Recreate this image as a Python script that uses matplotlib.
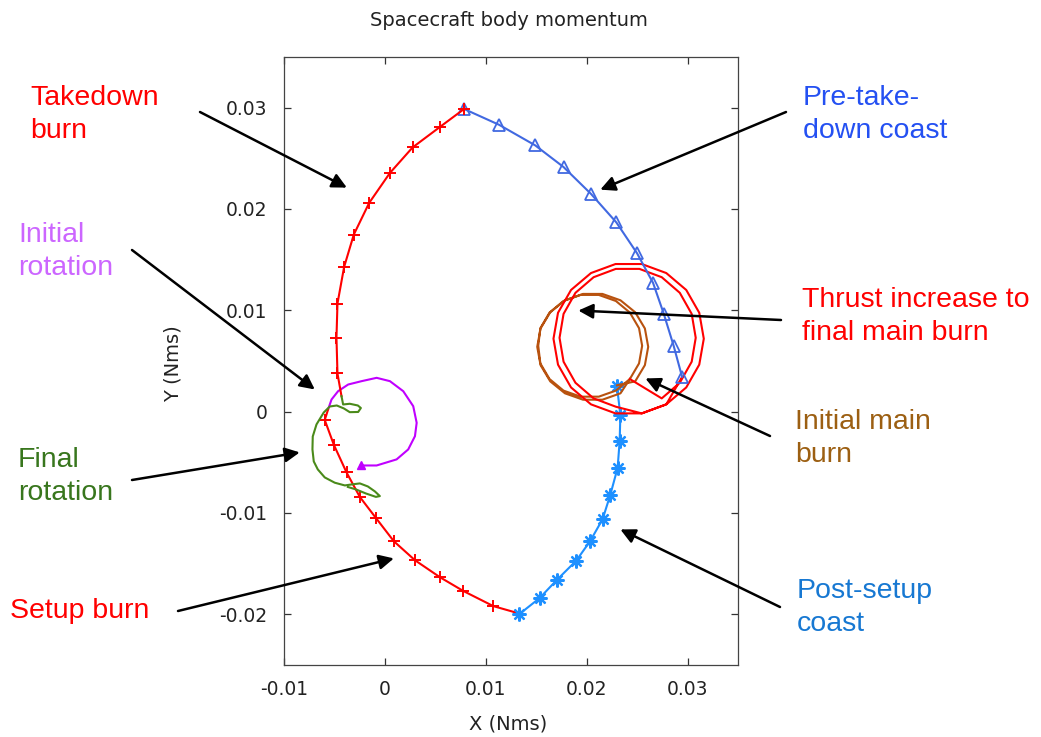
import matplotlib
matplotlib.use("Agg")
import matplotlib.pyplot as plt

# ---------------- data (Nms) ----------------
# Initial rotation (purple)
rot0_x = [-0.00241, -0.00160, -0.00082, 0.00116, 0.00231, 0.00298, 0.00315, 0.00281,
          0.00182, 0.00050, -0.00082, -0.00231, -0.00364, -0.00464, -0.00529, -0.00563]
rot0_y = [-0.00531, -0.00531, -0.00531, -0.00471, -0.00373, -0.00242, -0.00110, 0.00054,
          0.00202, 0.00301, 0.00334, 0.00301, 0.00268, 0.00202, 0.00120, 0.00022]

# Setup burn (red, lower)
setup_x = [-0.00563, -0.00596, -0.00506, -0.00380, -0.00248, -0.00089, 0.00089, 0.00298,
           0.00546, 0.00778, 0.01075, 0.01308]
setup_y = [0.00022, -0.00082, -0.00327, -0.00600, -0.00842, -0.01049, -0.01279, -0.01466,
           -0.01634, -0.01770, -0.01919, -0.01985]

# Post-setup coast (light blue, lower)
postsetup_x = [0.01330, 0.01533, 0.01705, 0.01897, 0.02036, 0.02158, 0.02234, 0.02307,
               0.02327, 0.02334, 0.02300]
postsetup_y = [-0.02000, -0.01840, -0.01660, -0.01470, -0.01275, -0.01061, -0.00822, -0.00554,
               -0.00289, -0.00036, 0.00257]

# Initial main burn (brown, two loops)
mainburn_x = [0.02300, 0.02481, 0.02577, 0.02610, 0.02577, 0.02481, 0.02335, 0.02156, 0.01964,
              0.01785, 0.01639, 0.01543, 0.01510, 0.01543, 0.01639, 0.01785, 0.01964, 0.02156,
              0.02335, 0.02428, 0.02519, 0.02550, 0.02519, 0.02428, 0.02290, 0.02120, 0.01940,
              0.01770, 0.01632, 0.01541, 0.01520, 0.01541, 0.01632, 0.01770, 0.01940, 0.02120,
              0.02290, 0.02428]
mainburn_y = [0.00260, 0.00299, 0.00459, 0.00640, 0.00821, 0.00981, 0.01099, 0.01162, 0.01162,
              0.01099, 0.00981, 0.00821, 0.00640, 0.00459, 0.00299, 0.00181, 0.00118, 0.00118,
              0.00181, 0.00322, 0.00476, 0.00650, 0.00824, 0.00978, 0.01092, 0.01152, 0.01152,
              0.01092, 0.00978, 0.00824, 0.00650, 0.00476, 0.00322, 0.00208, 0.00148, 0.00148,
              0.00208, 0.00322]

# Thrust increase to final main burn (red, two loops)
thrust_x = [0.02428, 0.02744, 0.02923, 0.03041, 0.03081, 0.03041, 0.02923, 0.02744, 0.02523,
            0.02289, 0.02069, 0.01889, 0.01771, 0.01731, 0.01771, 0.01889, 0.02069, 0.02289,
            0.02546, 0.02789, 0.02987, 0.03116, 0.03161, 0.03116, 0.02987, 0.02789, 0.02546,
            0.02286, 0.02043, 0.01845, 0.01716, 0.01671, 0.01716, 0.01845, 0.02043, 0.02286,
            0.02546, 0.02789, 0.02946]
thrust_y = [0.00322, 0.00131, 0.00285, 0.00493, 0.00729, 0.00965, 0.01173, 0.01327, 0.01409,
            0.01409, 0.01327, 0.01173, 0.00965, 0.00729, 0.00493, 0.00285, 0.00131, 0.00049,
            -0.00017, 0.00072, 0.00239, 0.00464, 0.00720, 0.00976, 0.01201, 0.01368, 0.01457,
            0.01457, 0.01368, 0.01201, 0.00976, 0.00720, 0.00464, 0.00239, 0.00072, -0.00017,
            -0.00017, 0.00072, 0.00343]

# Pre-take-down coast (royal blue, upper)
precoast_x = [0.02946, 0.02863, 0.02764, 0.02658, 0.02499, 0.02294, 0.02043, 0.01771,
              0.01490, 0.01132, 0.00785]
precoast_y = [0.00343, 0.00647, 0.00967, 0.01271, 0.01564, 0.01868, 0.02149, 0.02414,
              0.02628, 0.02831, 0.02987]

# Takedown burn (red, upper)
takedown_x = [0.00785, 0.00546, 0.00275, 0.00050, -0.00156, -0.00308, -0.00404, -0.00470,
              -0.00480, -0.00470, -0.00430]
takedown_y = [0.02987, 0.02810, 0.02608, 0.02356, 0.02060, 0.01748, 0.01429, 0.01067,
              0.00729, 0.00377, 0.00153]

# Final rotation (green)
rotf_x = [-0.00430, -0.00414, -0.00348, -0.00268, -0.00238, -0.00265, -0.00348, -0.00407,
          -0.00477, -0.00546, -0.00606, -0.00678, -0.00715, -0.00718, -0.00705, -0.00665,
          -0.00596, -0.00497, -0.00397, -0.00328, -0.00248, -0.00169, -0.00099, -0.00050,
          -0.00089, -0.00189, -0.00288, -0.00367]
rotf_y = [0.00153, 0.00071, 0.00078, 0.00061, 0.00036, -0.00003, -0.00005, 0.00032,
          0.00061, 0.00051, -0.00008, -0.00126, -0.00245, -0.00373, -0.00491, -0.00570,
          -0.00649, -0.00701, -0.00728, -0.00718, -0.00708, -0.00738, -0.00787, -0.00833,
          -0.00841, -0.00807, -0.00767, -0.00743]

x_ticks = [-0.01, 0, 0.01, 0.02, 0.03]
x_ticklabels = ["-0.01", "0", "0.01", "0.02", "0.03"]
y_ticks = [-0.02, -0.01, 0, 0.01, 0.02, 0.03]
y_ticklabels = ["-0.02", "-0.01", "0", "0.01", "0.02", "0.03"]

# annotation labels: text, colour, text top-left (fig px from top-left), arrow tail (fig px), arrow head (data)
labels = ["Takedown\nburn", "Pre-take-\ndown coast", "Initial\nrotation",
          "Thrust increase to\nfinal main burn", "Initial main\nburn", "Final\nrotation",
          "Setup burn", "Post-setup\ncoast"]
label_colors = ["#ff0000", "#2450f2", "#cc66ff", "#ff0000", "#9c5f12", "#38761d",
                "#ff0000", "#1778d2"]
label_pos = [(30, 85), (803, 85), (18, 222), (802, 287), (795, 409), (18, 447),
             (10, 598), (797, 578)]
arrow_tail = [(200, 112), (786, 112), (132, 250), (781, 320), (770, 436), (132, 480),
              (178, 611), (780, 607)]
arrow_head = [(-0.00377, 0.02211), (0.02135, 0.02191), (-0.00695, 0.00219),
              (0.01917, 0.00998), (0.02582, 0.00328), (-0.00844, -0.00402),
              (0.00089, -0.01448), (0.02334, -0.01162)]

# ---------------- figure ----------------
W, H = 1041, 737
fig = plt.figure(figsize=(W / 100, H / 100), dpi=100)
ax = fig.add_axes([284 / W, 1 - 665 / H, (738 - 284) / W, (665 - 57) / H])

lw = 1.5
ax.plot(rot0_x, rot0_y, color="#c000ff", lw=lw)
ax.plot(rot0_x[:1], rot0_y[:1], marker="^", color="#c000ff", ms=6, ls="none")
ax.plot(setup_x, setup_y, color="#ff0000", lw=lw, marker="+", ms=9, mew=1.4,
        markevery=slice(1, -1))
ax.plot(postsetup_x, postsetup_y, color="#1e90ff", lw=lw, marker=(8, 2, 0), ms=10, mew=1.6)
ax.plot(mainburn_x, mainburn_y, color="#b8520f", lw=lw)
ax.plot(thrust_x, thrust_y, color="#ff0000", lw=lw)
ax.plot(precoast_x, precoast_y, color="#4169e1", lw=lw, marker="^", ms=8, mew=1.3,
        mfc="none")
ax.plot(takedown_x, takedown_y, color="#ff0000", lw=lw, marker="+", ms=9, mew=1.4,
        markevery=slice(0, -1))
ax.plot(rotf_x, rotf_y, color="#4a8a1a", lw=lw)

ax.set_xlim(-0.01, 0.035)
ax.set_ylim(-0.025, 0.035)
ax.set_xticks(x_ticks)
ax.set_xticklabels(x_ticklabels)
ax.set_yticks(y_ticks)
ax.set_yticklabels(y_ticklabels)
ax.tick_params(direction="in", length=5, width=0.9, top=True, right=True,
               labelsize=13.5, colors="#333333", pad=11)
ax.tick_params(axis="y", pad=12)
for s in ax.spines.values():
    s.set_color("#444444")
    s.set_linewidth(0.9)

tick_font = "DejaVu Sans"
for t in ax.get_xticklabels() + ax.get_yticklabels():
    t.set_fontfamily(tick_font)
    t.set_color("#222222")

fig.text(508.5 / W, 1 - 20 / H, "Spacecraft body momentum", ha="center", va="center",
         fontsize=14, family=tick_font, color="#222222")
fig.text(508 / W, 1 - 724 / H, "X (Nms)", ha="center", va="center",
         fontsize=14, family=tick_font, color="#222222")
fig.text(173.5 / W, 1 - 364 / H, "Y (Nms)", ha="center", va="center", rotation=90,
         fontsize=14, family=tick_font, color="#222222")

for txt, col, (tx, ty), (ax_, ay_), head in zip(labels, label_colors, label_pos,
                                                arrow_tail, arrow_head):
    fig.text(tx / W, 1 - ty / H, txt, ha="left", va="top", color=col,
             fontsize=20.5, family="Liberation Sans", linespacing=1.33)
    ax.annotate("", xy=head, xycoords="data",
                xytext=(ax_, H - ay_), textcoords="figure pixels",
                arrowprops=dict(arrowstyle="-|>", color="black", lw=1.8,
                                mutation_scale=22, shrinkA=0, shrinkB=0),
                annotation_clip=False)

fig.savefig("out.png", dpi=100)
